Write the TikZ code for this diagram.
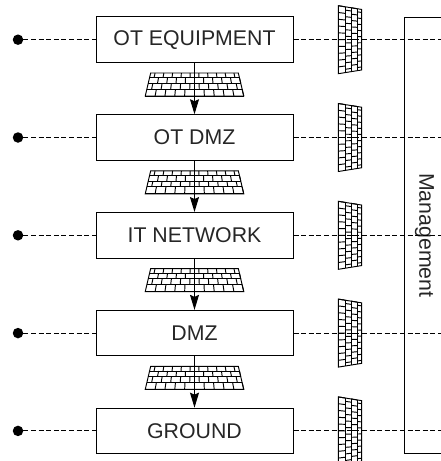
\documentclass[tikz,border=0pt]{standalone}
\usepackage{fontspec}
\setmainfont{Liberation Sans}
\usetikzlibrary{arrows.meta}

\tikzset{
    zone/.style={draw, line width=1pt, inner sep=0pt, minimum width=197pt, minimum height=45.5pt, font=\fontsize{21.3}{24}\selectfont, text=black!85},
    endpoint/.style={circle, fill=black, inner sep=0pt, minimum size=10.5pt},
    link/.style={line width=1.1pt, dash pattern=on 5pt off 2.6pt},
    flow/.style={line width=1pt, -{Stealth[length=15pt,width=9pt,inset=2pt]}},
    brick/.style={line width=0.95pt},
    wallh/.style={x={(49.25pt,0pt)}, y={(0pt,-23pt)}},
    wallv/.style={x={(0pt,34pt)}, y={(-23.4pt,0pt)}},
    firewall/.pic={
        \draw[brick] (-0.89,0) -- (0.89,0) -- (1,1) -- (-1,1) -- cycle;
        \foreach \va/\vb/\off in {0/0.2/-0.9, 0.2/0.45/-0.8, 0.45/0.7/-0.9, 0.7/1/-0.8} {
            \draw[brick] ({-(0.89+0.11*\vb)},\vb) -- ({0.89+0.11*\vb},\vb);
            \foreach \k in {0,...,9}
                \draw[brick] ({(\off+0.2*\k)*(0.89+0.11*\va)},\va) -- ({(\off+0.2*\k)*(0.89+0.11*\vb)},\vb);
        }
    }
}

\begin{document}
\begin{tikzpicture}[x=1pt, y=-1pt]
    \useasboundingbox (0,0) rectangle (441,461);

    % Management bar, open at the page edge
    \node[draw, line width=1pt, inner sep=0pt, rotate=-90, minimum width=436.5pt, minimum height=40pt, font=\fontsize{21.3}{24}\selectfont, text=black!85] (mgmt) at (424.5,235.4) {Management};

    % Zones
    \foreach \i/\txt [evaluate=\i as \ypos using 39.7+97.8*(\i-1)] in {1/OT EQUIPMENT, 2/OT DMZ, 3/IT NETWORK, 4/DMZ, 5/GROUND} {
        \node[zone] (box\i) at (194.5,\ypos) {\txt};
        \node[endpoint] (dot\i) at (18,\ypos) {};
        \path (361.7,\ypos) pic[wallv] {firewall};
        \draw[link] (dot\i) -- (box\i.west);
        \draw[link] (box\i.east) -- (box\i.east -| mgmt.north);
    }

    % Walls and arrows between zones
    \foreach \i/\j [evaluate=\i as \ytop using 73+97.8*(\i-1)] in {1/2, 2/3, 3/4, 4/5} {
        \path (194.5,\ytop) pic[wallh] {firewall};
        \draw[flow] (box\i) -- (box\j);
    }
\end{tikzpicture}
\end{document}
